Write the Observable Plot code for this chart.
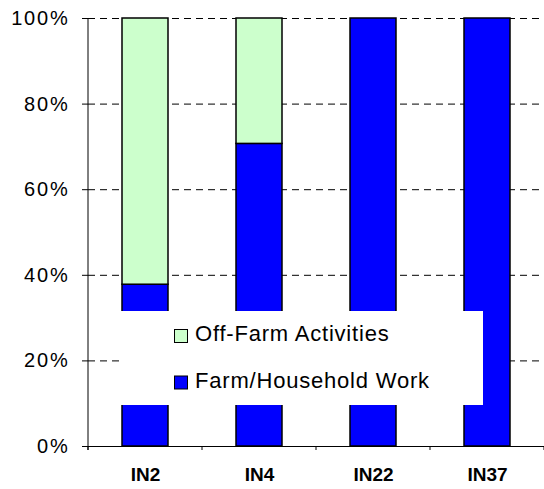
<!DOCTYPE html>
<html><head><meta charset="utf-8">
<script src="https://cdn.jsdelivr.net/npm/d3@7"></script>
<script src="https://cdn.jsdelivr.net/npm/@observablehq/plot@0.6"></script>
<style>
body{margin:0;background:#fff;}
#chart{position:relative;width:544px;height:489px;}
#chart svg{font-family:"Liberation Sans",Arial,sans-serif;}
#chart svg [aria-label^="y-axis"] text{font-size:20px;letter-spacing:1.8px;fill:#000;}
#chart svg [aria-label^="x-axis"] text{font-size:19px;font-weight:bold;fill:#000;}
</style></head><body><div id="chart"></div>
<script>
const categories = ["IN2", "IN4", "IN22", "IN37"];
const farmShare = [0.378, 0.707, 1.0, 1.0];
const offFarmShare = [0.622, 0.293, 0.0, 0.0];
const seriesNames = ["Farm/Household Work", "Off-Farm Activities"];
const seriesColors = ["#0000FF", "#CCFFCC"];
const legendOrder = ["Off-Farm Activities", "Farm/Household Work"];
const yTicks = [0, 0.2, 0.4, 0.6, 0.8, 1.0];

const rows = [];
categories.forEach((c, i) => {
  rows.push({cat: c, series: seriesNames[0], share: farmShare[i]});
  rows.push({cat: c, series: seriesNames[1], share: offFarmShare[i]});
});
const data = rows.filter(d => d.share > 0);

const plot = Plot.plot({
  width: 544, height: 489,
  marginLeft: 88, marginRight: 0, marginTop: 18, marginBottom: 43,
  style: {background: "#fff", overflow: "visible", color: "#000"},
  x: {domain: categories, paddingInner: 0.6, paddingOuter: 0.3, label: null, tickSize: 0, tickPadding: 21},
  y: {domain: [0, 1], ticks: yTicks, tickFormat: d3.format(".0%"), label: null, tickSize: 6, tickPadding: 13},
  color: {domain: seriesNames, range: seriesColors},
  marks: [
    Plot.ruleY(yTicks.filter(t => t > 0), {stroke: "#000", strokeDasharray: "7,5", strokeWidth: 1}),
    Plot.barY(data, {x: "cat", y: "share", fill: "series", stroke: "#000", strokeWidth: 1.5}),
    Plot.ruleY([0], {stroke: "#000", strokeWidth: 1})
  ]
});
document.getElementById("chart").appendChild(plot);

const sx = plot.scale("x"), sy = plot.scale("y"), sc = plot.scale("color");
const yPos = v => sy.range[0] + (sy.range[1] - sy.range[0]) * (v - sy.domain[0]) / (sy.domain[1] - sy.domain[0]);
const xr0 = sx.range[0], xr1 = sx.range[1];
const svg = d3.select(plot);
const g = svg.append("g");
// y axis line
g.append("line").attr("x1", xr0).attr("x2", xr0).attr("y1", yPos(1)).attr("y2", yPos(0) + 4)
  .attr("stroke", "#000").attr("stroke-width", 1);
// category boundary ticks
const n = categories.length;
for (let i = 0; i <= n; i++) {
  const xx = xr0 + i * (xr1 - xr0) / n;
  g.append("line").attr("x1", xx).attr("x2", xx).attr("y1", yPos(0)).attr("y2", yPos(0) + 4)
    .attr("stroke", "#000").attr("stroke-width", 1);
}
// legend box overlapping plot
const lg = svg.append("g").attr("text-anchor", "start");
lg.append("rect").attr("x", 120).attr("y", 311).attr("width", 363).attr("height", 94).attr("fill", "#fff");
const colorOf = name => sc.range[sc.domain.indexOf(name)];
legendOrder.forEach((name, i) => {
  lg.append("rect").attr("x", 174.5).attr("y", 329.5 + i * 46.5).attr("width", 13).attr("height", 13)
    .attr("fill", colorOf(name)).attr("stroke", "#000").attr("stroke-width", 1);
  lg.append("text").attr("x", 195).attr("y", 341 + i * 47).text(name)
    .attr("text-anchor", "start")
    .attr("font-family", "'Liberation Sans', Arial, sans-serif").attr("font-size", 22)
    .attr("letter-spacing", "0.8px").attr("fill", "#000");
});
</script></body></html>
